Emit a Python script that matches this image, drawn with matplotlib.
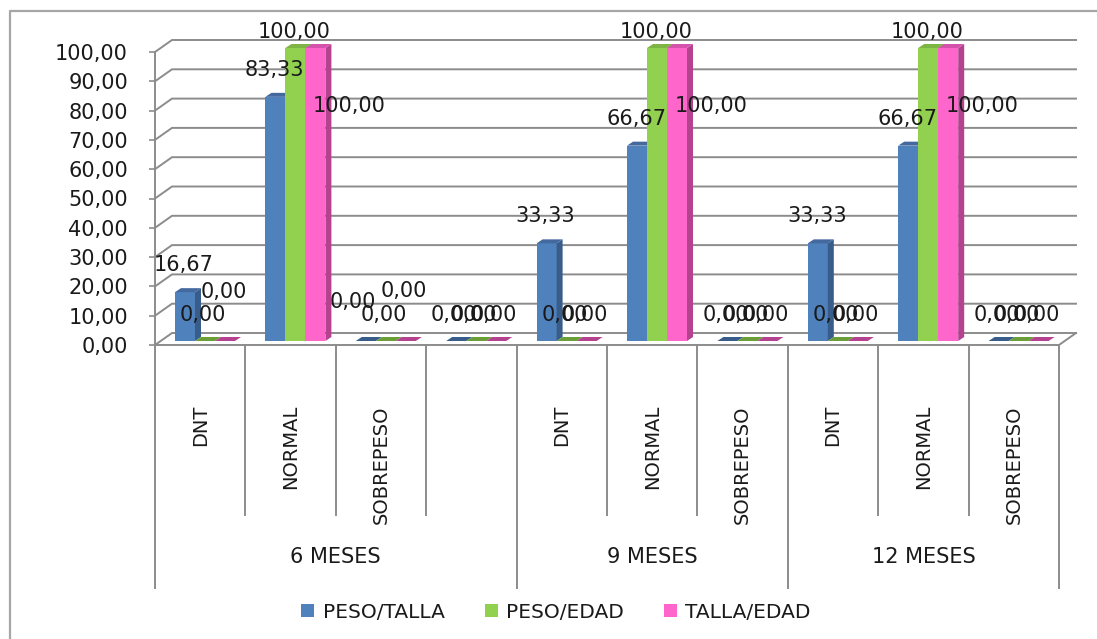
import matplotlib
matplotlib.use("Agg")
import matplotlib.pyplot as plt
import numpy as np
from matplotlib.lines import Line2D
from matplotlib.patches import Patch, Polygon
from matplotlib.transforms import blended_transform_factory

# Data
groups = ["6 MESES", "9 MESES", "12 MESES"]
group_spans = [(0, 4), (4, 7), (7, 10)]
categories = ["DNT", "NORMAL", "SOBREPESO", "",
              "DNT", "NORMAL", "SOBREPESO",
              "DNT", "NORMAL", "SOBREPESO"]
series_names = ["PESO/TALLA", "PESO/EDAD", "TALLA/EDAD"]
peso_talla = [16.67, 83.33, 0, 0, 33.33, 66.67, 0, 33.33, 66.67, 0]
peso_edad = [0, 100, 0, 0, 0, 100, 0, 0, 100, 0]
talla_edad = [0, 100, 0, 0, 0, 100, 0, 0, 100, 0]
y_ticks = np.arange(0, 101, 10)

# front / side / top face colours per series
face_colors = [
    ("#4F81BD", "#385D8A", "#44699E"),
    ("#92D050", "#6B9E38", "#7DB444"),
    ("#FF66CC", "#B4428F", "#D452AC"),
]
grid_color = "#8C8C8C"
text_color = "#1A1A1A"


def fmt(v):
    return f"{v:.2f}".replace(".", ",")


W, H = 1097, 639
X0, X1 = 155, 1059      # front floor, left/right (px)
Y0, Y1 = 345, 52        # value 0 / value 100 on the front axis (px)

fig = plt.figure(figsize=(W / 100, H / 100), dpi=100)
ax = fig.add_axes([X0 / W, 1 - Y0 / H, (X1 - X0) / W, (Y0 - Y1) / H])
n = len(categories)
ax.set_xlim(0, n)
ax.set_ylim(0, 100)

sx = (X1 - X0) / n
sy = (Y0 - Y1) / 100.0
wall_dx, wall_dy = 17 / sx, 12 / sy
bar_w, bar_start = 20 / sx, 20 / sx
depth_dx, depth_dy = 6 / sx, 4 / sy
base = 4 / sy

# back wall gridlines with the slanted side wall
for t in y_ticks:
    ax.plot([0, wall_dx, n + wall_dx], [t, t + wall_dy, t + wall_dy],
            color=grid_color, lw=1.4, clip_on=False, zorder=1)
ax.plot([0, n, n + wall_dx], [0, 0, wall_dy], color=grid_color, lw=1.4,
        clip_on=False, zorder=1)

# bars drawn as front face + side + top
all_series = [peso_talla, peso_edad, talla_edad]
for k, (vals, (fc, sc, tc)) in enumerate(zip(all_series, face_colors)):
    xs = np.arange(n) + bar_start + k * bar_w
    ax.bar(xs, vals, width=bar_w, bottom=base, align="edge", color=fc,
           linewidth=0, zorder=3, clip_on=False)
    for x, v in zip(xs, vals):
        top = base + v
        if v > 0:
            ax.add_patch(Polygon([(x + bar_w, base), (x + bar_w + depth_dx, base + depth_dy),
                                  (x + bar_w + depth_dx, top + depth_dy), (x + bar_w, top)],
                                 closed=True, fc=sc, lw=0, zorder=3, clip_on=False))
        ax.add_patch(Polygon([(x, top), (x + bar_w, top),
                              (x + bar_w + depth_dx, top + depth_dy), (x + depth_dx, top + depth_dy)],
                             closed=True, fc=tc if v > 0 else sc, lw=0, zorder=3, clip_on=False))

# data labels (pixel offsets from the top of each bar's front face)
nonzero_off = [(-1, 27), (-1, 16), (34, -58)]
zero_off = (-2, 26)
special_off = {(0, 2): (-1, 49), (2, 2): (-2, 50), (2, 0): (-13, 39)}
for k, vals in enumerate(all_series):
    for i, v in enumerate(vals):
        x = i + bar_start + k * bar_w + bar_w / 2
        off = special_off.get((i, k), nonzero_off[k] if v > 0 else zero_off)
        ax.annotate(fmt(v), xy=(x, base + v), xytext=off, textcoords="offset pixels",
                    ha="center", va="center", fontsize=15, color=text_color,
                    zorder=6, annotation_clip=False)

# y axis
ax.set_yticks(y_ticks)
ax.set_yticklabels([fmt(t) for t in y_ticks], fontsize=15, color=text_color)
ax.tick_params(axis="y", length=4.5, width=1.2, color=grid_color, pad=15)
ax.set_xticks([])
for side in ["top", "right", "bottom"]:
    ax.spines[side].set_visible(False)
ax.spines["left"].set_color(grid_color)
ax.spines["left"].set_linewidth(1.4)
ax.patch.set_visible(False)

# multi-level category axis below the floor
trans = blended_transform_factory(ax.transData, fig.transFigure)


def fy(py):
    return 1 - py / H


for i in range(n + 1):
    is_group_edge = any(i == s or i == e for s, e in group_spans)
    bottom = 588 if is_group_edge else 515
    ax.plot([i, i], [fy(Y0), fy(bottom)], transform=trans, color=grid_color,
            lw=1.4, clip_on=False)

for i, cat in enumerate(categories):
    ax.text(i + 0.5, fy(405), cat, rotation=90, ha="center", va="top",
            fontsize=14, color=text_color, transform=trans)

for name, (s, e) in zip(groups, group_spans):
    ax.text((s + e) / 2, fy(557), name, ha="center", va="center",
            fontsize=15, color=text_color, transform=trans)

# legend
handles = [Patch(facecolor=c[0], edgecolor="none", label=lab)
           for c, lab in zip(face_colors, series_names)]
fig.legend(handles=handles, loc="center", bbox_to_anchor=(556 / W, 1 - 612 / H),
           ncol=3, frameon=False, fontsize=14.5, handlelength=0.65,
           handleheight=0.65, handletextpad=0.4, columnspacing=2.0,
           labelcolor=text_color)

# chart area border
fig.add_artist(Line2D([10 / W, 10 / W, 1], [0, 1 - 11 / H, 1 - 11 / H],
                      transform=fig.transFigure, color="#A6A6A6", lw=1.6))

fig.savefig("out.png", dpi=100)
